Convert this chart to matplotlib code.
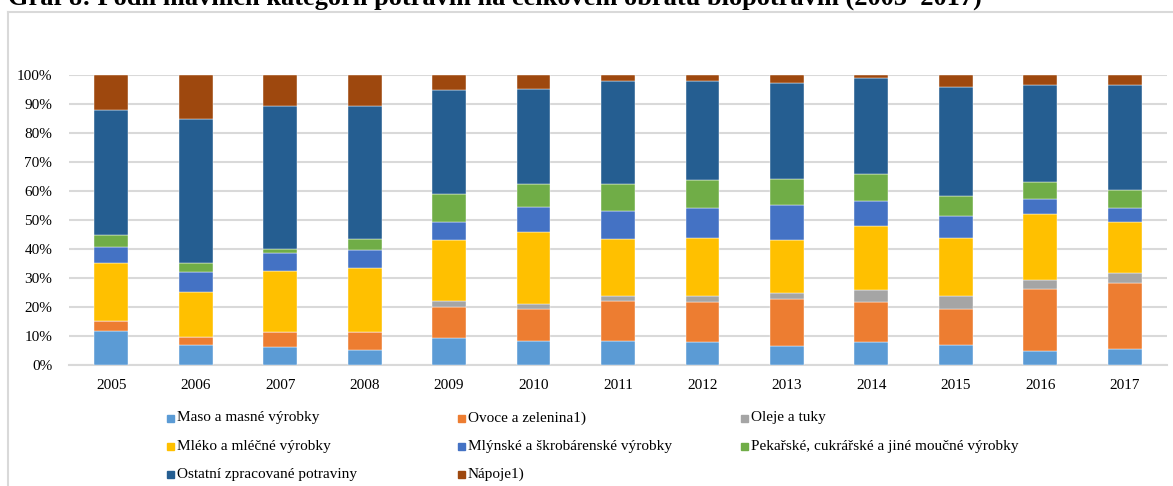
import matplotlib
matplotlib.use("Agg")
import matplotlib.pyplot as plt
from matplotlib.patches import Rectangle
import numpy as np

years = ["2005", "2006", "2007", "2008", "2009", "2010", "2011",
         "2012", "2013", "2014", "2015", "2016", "2017"]

categories = ["Maso a masné výrobky", "Ovoce a zelenina1)", "Oleje a tuky",
              "Mléko a mléčné výrobky", "Mlýnské a škrobárenské výrobky",
              "Pekařské, cukrářské a jiné moučné výrobky",
              "Ostatní zpracované potraviny", "Nápoje1)"]

maso     = [11.7, 6.8, 6.1, 5.2, 9.2, 8.3, 8.3, 8.0, 6.6, 8.0, 6.8, 4.7, 5.6]
ovoce    = [3.5, 3.0, 5.4, 6.3, 10.9, 11.0, 13.7, 13.7, 16.2, 13.7, 12.5, 21.5, 22.7]
oleje    = [0.0, 0.0, 0.0, 0.0, 2.0, 1.7, 1.7, 2.0, 2.0, 4.3, 4.4, 3.0, 3.4]
mleko    = [20.1, 15.4, 21.0, 22.1, 21.0, 25.0, 19.7, 20.0, 18.3, 22.0, 20.0, 22.9, 17.5]
mlynske  = [5.4, 6.9, 6.0, 6.1, 6.1, 8.5, 9.8, 10.6, 12.0, 8.6, 7.6, 5.0, 5.1]
pekarske = [4.1, 3.2, 1.4, 3.7, 9.7, 8.0, 9.3, 9.5, 9.0, 9.3, 7.1, 6.0, 5.9]
ostatni  = [43.1, 49.4, 49.4, 45.9, 35.9, 32.8, 35.4, 34.1, 33.0, 33.0, 37.3, 33.3, 36.2]
napoje   = [12.1, 15.3, 10.7, 10.7, 5.2, 4.7, 2.1, 2.1, 2.9, 1.1, 4.3, 3.6, 3.6]

series = [maso, ovoce, oleje, mleko, mlynske, pekarske, ostatni, napoje]
colors = ["#5B9BD5", "#ED7D31", "#A5A5A5", "#FFC000", "#4472C4",
          "#70AD47", "#255E91", "#9E480E"]

W, H = 1173, 486
fig = plt.figure(figsize=(W / 100, H / 100), dpi=100)
plt.rcParams['font.family'] = ['Liberation Serif', 'DejaVu Serif']

# chart border (left and top lines)
fig.add_artist(plt.Line2D([7.5 / W, 7.5 / W], [0, 1 - 12.5 / H], color="#d9d9d9", lw=1.5))
fig.add_artist(plt.Line2D([7.5 / W, 1], [1 - 12.5 / H, 1 - 12.5 / H], color="#d9d9d9", lw=1.5))

# title (partially cut at top, as in reference)
fig.text(8 / W, 1 - 5 / H, "Graf 8: Podíl hlavních kategorií potravin na celkovém obratu biopotravin (2005–2017)",
         fontsize=19, fontweight="bold", ha="left", va="baseline")

ax = fig.add_axes([69 / W, (H - 365) / H, (1167 - 69) / W, (365 - 75) / H])

totals = np.array([sum(s[i] for s in series) for i in range(len(years))])
x = np.arange(len(years))
bottom = np.zeros(len(years))
for vals, c, lab in zip(series, colors, categories):
    v = np.array(vals) / totals
    ax.bar(x, v, 0.4, bottom=bottom, color=c, label=lab, zorder=3,
           edgecolor="white", linewidth=0.3)
    bottom += v

ax.set_xlim(-0.5, len(years) - 0.5)
ax.set_ylim(0, 1)
ax.set_yticks(np.arange(0, 1.01, 0.1))
ax.set_yticklabels([f"{int(round(t * 100))}%" for t in np.arange(0, 1.01, 0.1)], fontsize=11)
ax.set_xticks(x)
ax.set_xticklabels(years, fontsize=11)
ax.tick_params(length=0, pad=10)
ax.tick_params(axis="y", pad=12)
ax.grid(axis="y", color="#d9d9d9", lw=1.5, zorder=0)
for s in ["top", "right", "left"]:
    ax.spines[s].set_visible(False)
ax.spines["bottom"].set_color("#d9d9d9")
ax.spines["bottom"].set_linewidth(1.5)

# legend (row-major, 3 columns)
col_x = [167, 458, 741]
row_y = [418, 446, 474]
for i, (lab, c) in enumerate(zip(categories, colors)):
    r, col = divmod(i, 3)
    sx, sy = col_x[col], row_y[r]
    fig.add_artist(Rectangle((sx / W, 1 - (sy + 3.5) / H), 7 / W, 7 / H,
                             transform=fig.transFigure, color=c))
    fig.text((sx + 10) / W, 1 - sy / H, lab, fontsize=11, ha="left", va="center")

fig.savefig("out.png", dpi=100)
